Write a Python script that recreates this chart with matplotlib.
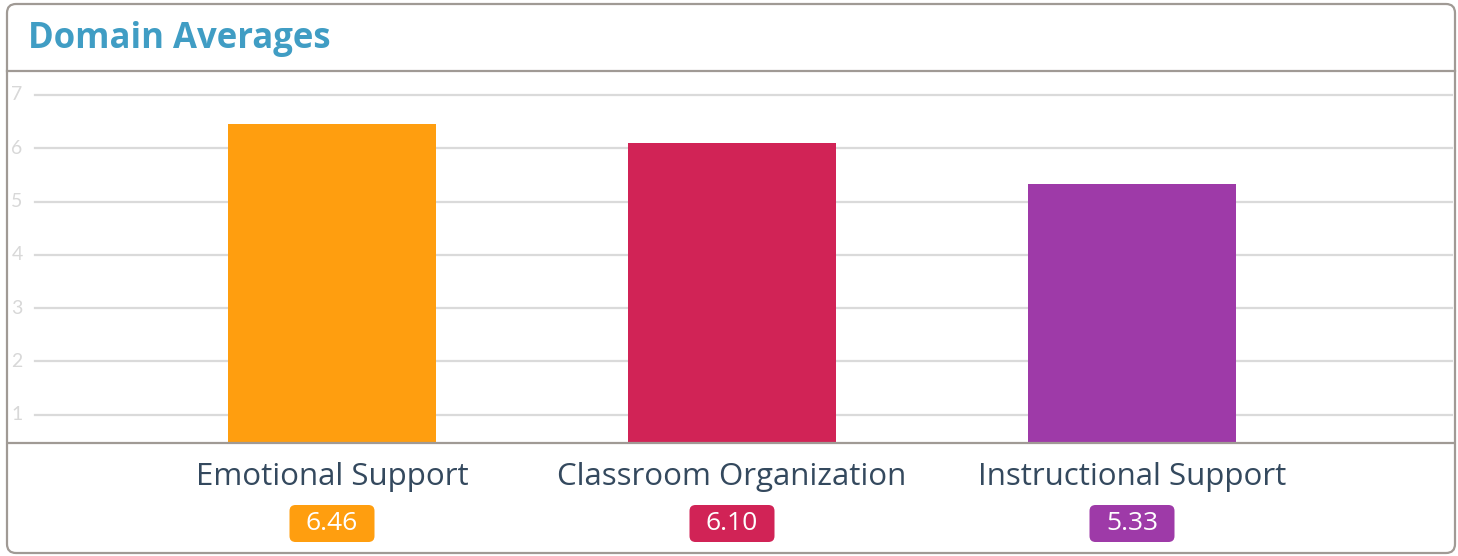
import matplotlib
matplotlib.use("Agg")
import matplotlib.pyplot as plt
from matplotlib.patches import FancyBboxPatch
from matplotlib.transforms import blended_transform_factory

# ---- 数据 ----
categories = ["Emotional Support", "Classroom Organization", "Instructional Support"]
values = [6.46, 6.10, 5.33]
colors = ["#FF9E0F", "#D12356", "#9E3AA8"]
yticks = [1, 2, 3, 4, 5, 6, 7]
title = "Domain Averages"

W, H = 1458, 556
plt.rcParams["font.family"] = ["Open Sans", "DejaVu Sans"]
fig = plt.figure(figsize=(W / 100, H / 100), dpi=100)

# 背景层: 像素坐标, 画外框、标题栏
bg = fig.add_axes([0, 0, 1, 1])
bg.set_xlim(0, W); bg.set_ylim(H, 0); bg.axis("off")
border = "#A09A95"
bg.add_patch(FancyBboxPatch((7, 4), 1448, 549, boxstyle="round,pad=0,rounding_size=9",
                            fc="white", ec=border, lw=1.6, zorder=0))
bg.plot([7, 1455], [71, 71], color=border, lw=1.6, zorder=1)
bg.text(28, 39, title, color="#409DC4", fontsize=25, fontweight="bold",
        ha="left", va="center")

# 柱状图区域
left, right, top, bottom = 9, 1453, 71, 443
ax = fig.add_axes([left / W, (H - bottom) / H, (right - left) / W, (bottom - top) / H])
ax.patch.set_alpha(0)
step, c0 = 400, 332
ax.set_xlim((left - c0) / step, (right - c0) / step)
ax.set_ylim(0.47, 7.45)

x = range(len(categories))
ax.bar(x, values, width=208 / step, color=colors, zorder=2)

gx0 = (35 - left) / (right - left)
tr = blended_transform_factory(ax.transAxes, ax.transData)
for t in yticks:
    ax.axhline(t, xmin=gx0, xmax=1, color="#DADADA", lw=1.6, zorder=1)
    ax.text((17 - left) / (right - left), t, str(t), transform=tr, ha="center",
            va="center", fontsize=14, color="#D8D8D8", family=["Lato", "DejaVu Sans"])

ax.set_yticks([])
ax.set_xticks(list(x))
ax.set_xticklabels(categories, fontsize=22.5, color="#34495E")
ax.tick_params(axis="x", length=0, pad=14)
for s in ["top", "left", "right"]:
    ax.spines[s].set_visible(False)
ax.spines["bottom"].set_color(border)
ax.spines["bottom"].set_linewidth(1.6)
ax.spines["bottom"].set_zorder(3)

# 数值徽标
inv = bg.transData.inverted()
for i, (v, c) in enumerate(zip(values, colors)):
    px, _ = inv.transform(ax.transData.transform((i, 0)))
    bg.add_patch(FancyBboxPatch((px - 42.5, 505), 85, 37,
                                boxstyle="round,pad=0,rounding_size=6",
                                fc=c, ec="none", zorder=2))
    bg.text(px, 523.5, f"{v:.2f}", color="white", fontsize=19, ha="center",
            va="center", zorder=3)

fig.savefig("out.png", dpi=100)
